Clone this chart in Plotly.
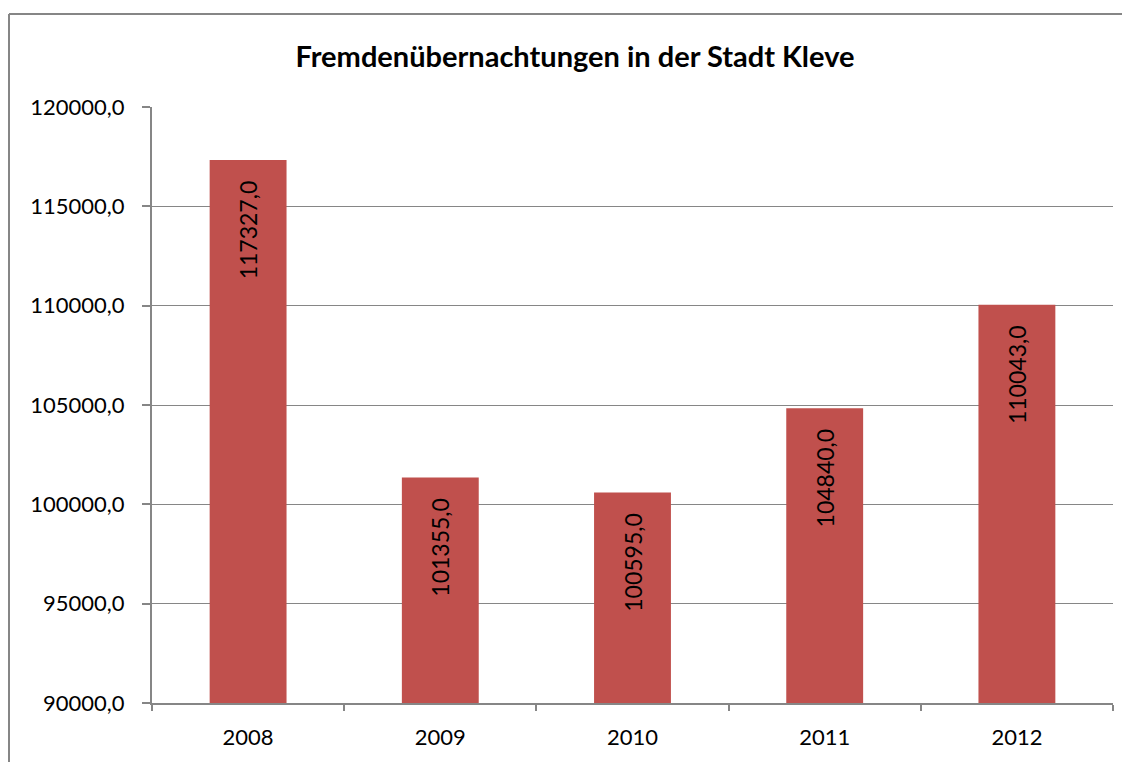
import plotly.graph_objects as go

years = ["2008", "2009", "2010", "2011", "2012"]
values = [117327, 101355, 100595, 104840, 110043]
title_text = "Fremdenübernachtungen in der Stadt Kleve"

FONT = "Lato"
GRAY = "#868686"
W, H = 1122, 754  # page body has 8px margin
L, R, T, B = 144, 17, 99, 59
PW, PH = W - L - R, H - T - B

fig = go.Figure(go.Bar(
    x=years, y=values,
    marker=dict(color="#C0504D", line=dict(width=0)),
    texttemplate="%{y:.1f}\u00a0\u00a0\u00a0",
    textposition="inside",
    insidetextanchor="end",
    textangle=-90,
    textfont=dict(family=FONT, size=23, color="black"),
    width=0.4,
))

fig.update_layout(
    width=W, height=H,
    margin=dict(l=L, r=R, t=T, b=B),
    paper_bgcolor="white", plot_bgcolor="white",
    separators=",.",
    showlegend=False,
    title=dict(text="<b>" + title_text + "</b>", x=(575 - 8) / W, xanchor="center",
               y=1 - (57 - 8) / H, yanchor="middle",
               font=dict(family=FONT, size=29, color="black")),
    font=dict(family=FONT, size=22, color="black"),
    xaxis=dict(type="category", showline=True, linecolor=GRAY, linewidth=2,
               ticks="outside", ticklen=6, tickcolor=GRAY, tickwidth=2,
               tickson="boundaries", showgrid=False, ticklabelstandoff=14,
               tickfont=dict(family=FONT, size=22, color="black")),
    yaxis=dict(range=[90000, 120000], dtick=5000, tickformat=".1f",
               showline=True, linecolor=GRAY, linewidth=2,
               ticks="outside", ticklen=8, tickcolor=GRAY, tickwidth=2,
               showgrid=True, gridcolor=GRAY, gridwidth=1, zeroline=False,
               ticklabelstandoff=13,
               tickfont=dict(family=FONT, size=22, color="black")),
    shapes=[
        dict(type="line", xref="paper", yref="paper",
             x0=-(L - 1) / PW, x1=1.05, y0=1 + (T - 6) / PH, y1=1 + (T - 6) / PH,
             line=dict(color=GRAY, width=2)),
        dict(type="line", xref="paper", yref="paper",
             x0=-(L - 1) / PW, x1=-(L - 1) / PW, y0=1 + (T - 6) / PH, y1=-0.2,
             line=dict(color=GRAY, width=2)),
    ],
)

fig.write_html("out.html")
